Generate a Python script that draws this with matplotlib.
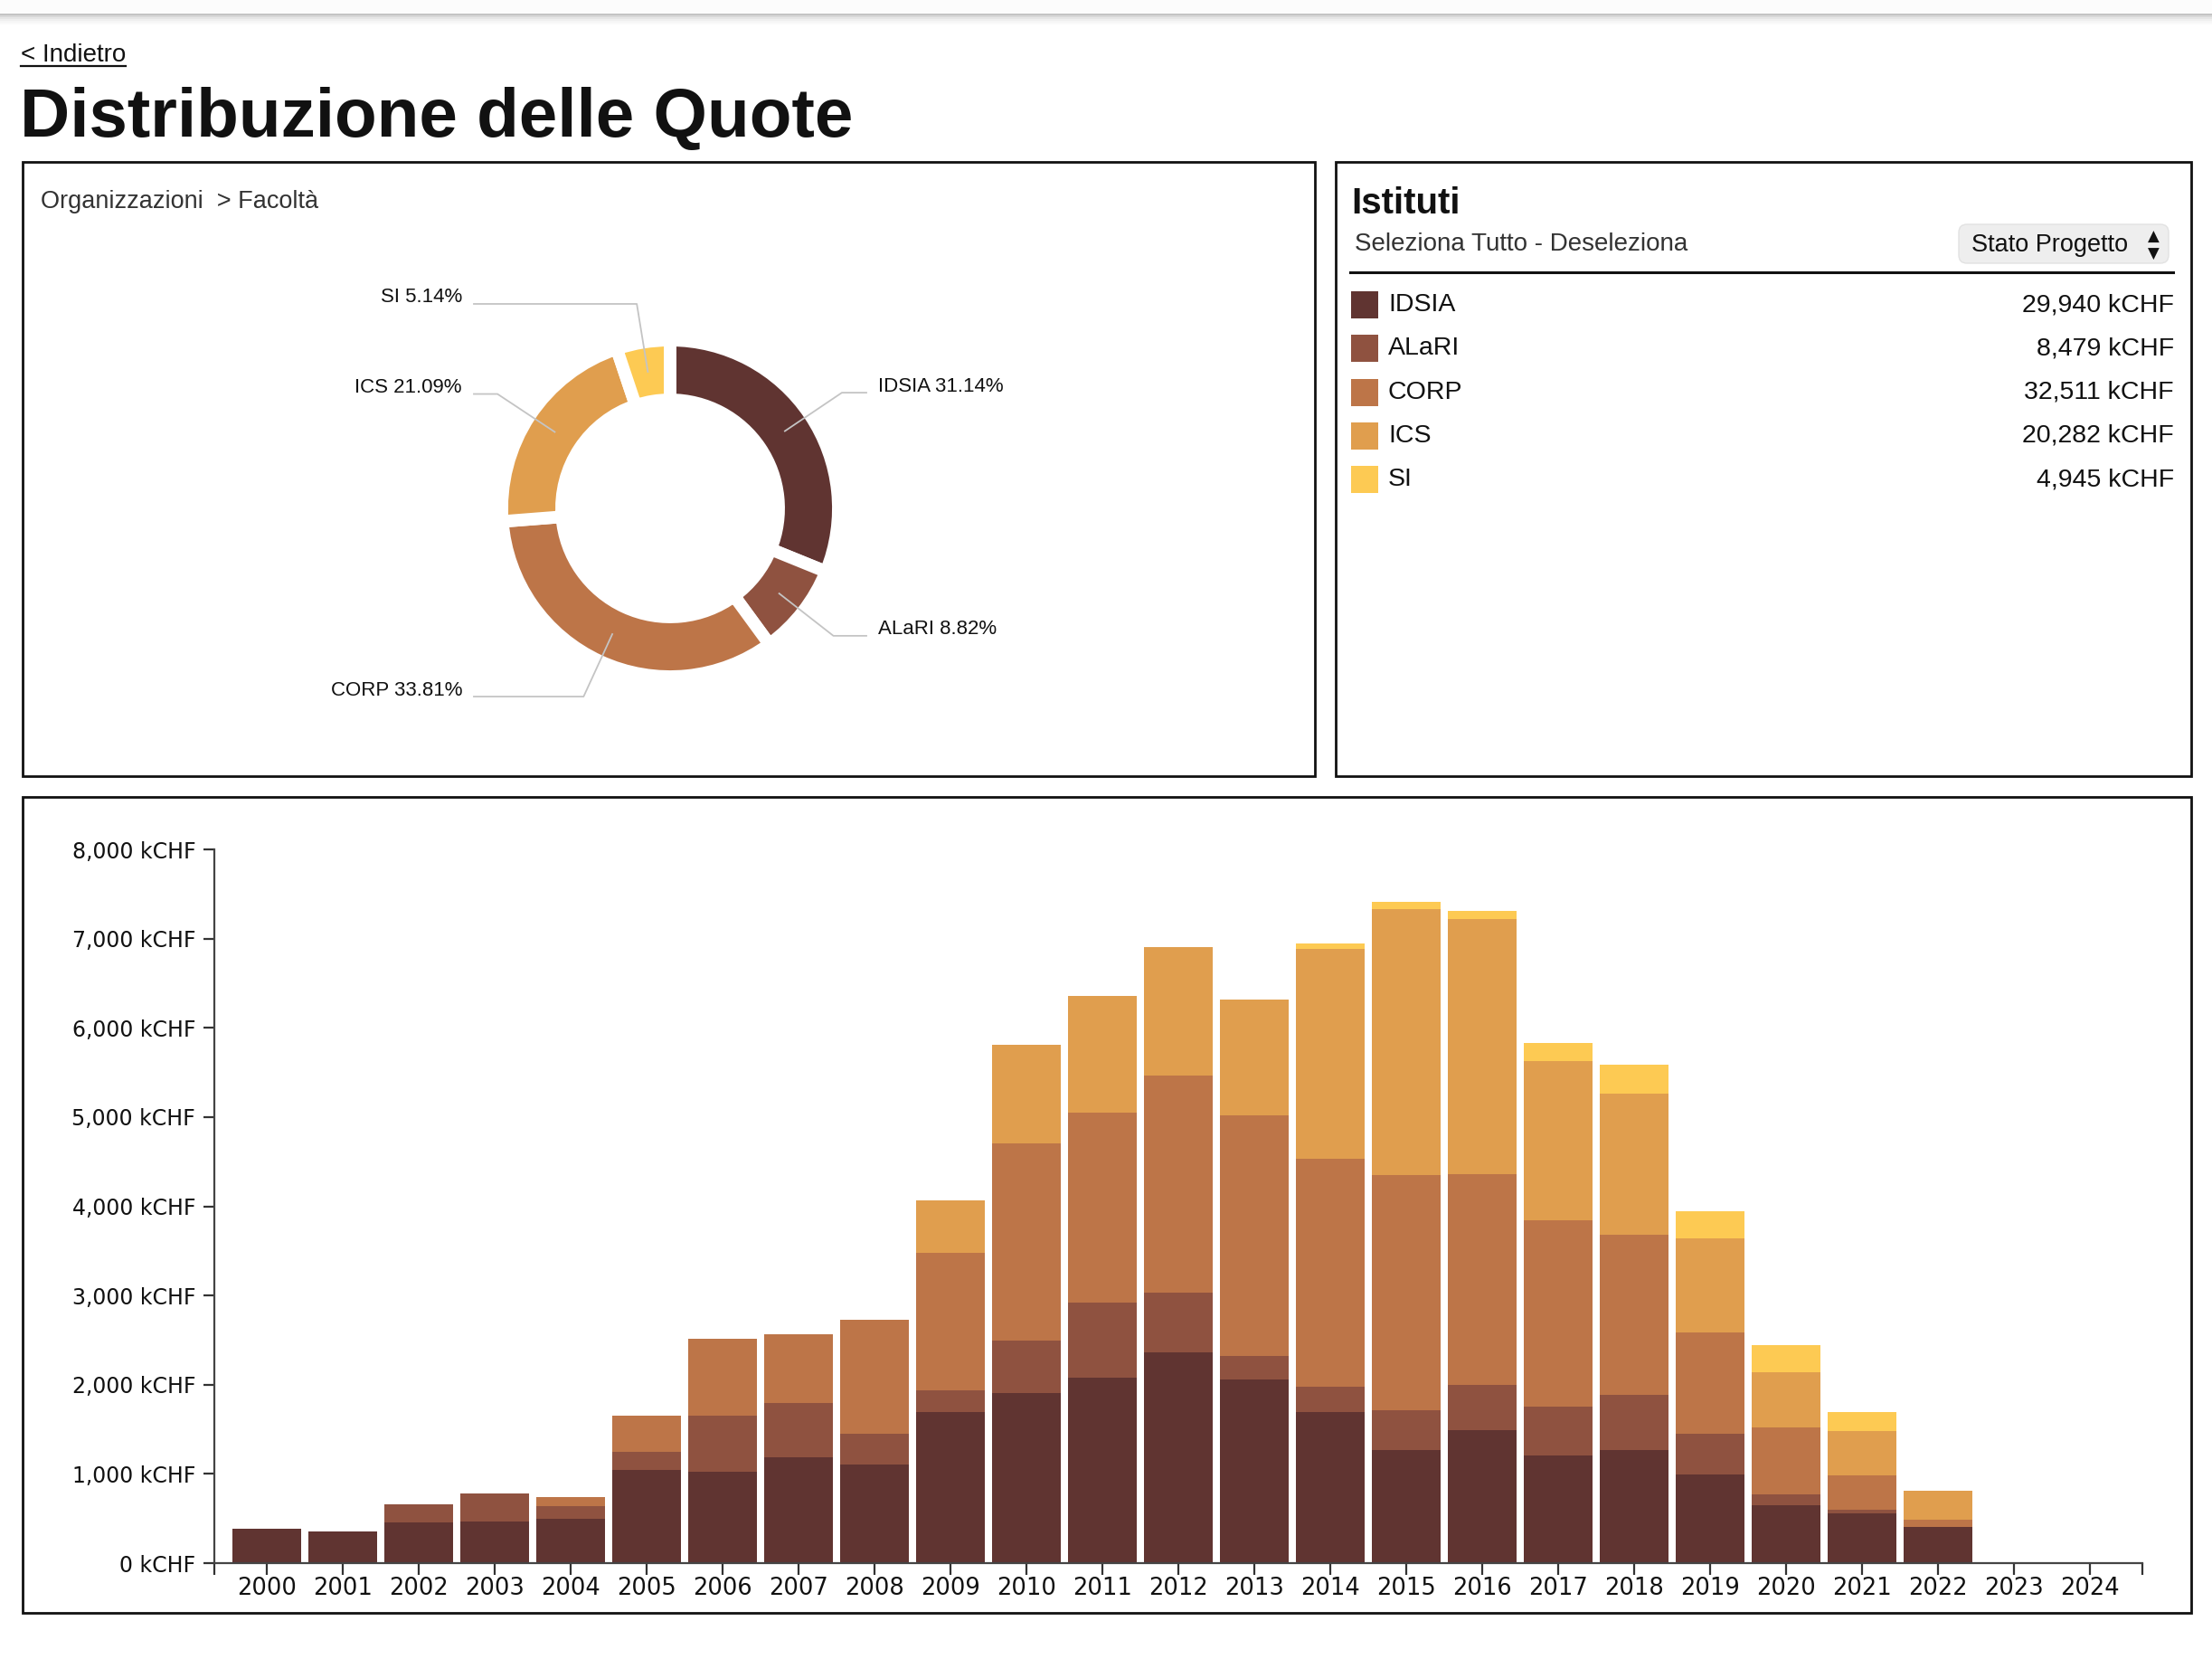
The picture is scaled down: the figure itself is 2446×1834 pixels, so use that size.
import matplotlib.pyplot as plt
from matplotlib.patches import Rectangle, FancyBboxPatch
import numpy as np

# data
istituti = ["IDSIA", "ALaRI", "CORP", "ICS", "SI"]
colori = ["#603431", "#8f5240", "#bd7548", "#e09e4e", "#fdca53"]
totali = [29940, 8479, 32511, 20282, 4945]
totali_label = ["29,940 kCHF", "8,479 kCHF", "32,511 kCHF", "20,282 kCHF", "4,945 kCHF"]
percentuali = ["31.14%", "8.82%", "33.81%", "21.09%", "5.14%"]

anni = [str(a) for a in range(2000, 2025)]
idsia = [390, 350, 455, 470, 495, 1045, 1020, 1185, 1110, 1695, 1905, 2080, 2365,
         2060, 1695, 1265, 1490, 1210, 1265, 995, 650, 555, 410, 0, 0]
alari = [0, 0, 200, 310, 145, 205, 635, 610, 345, 245, 590, 840, 670,
         265, 280, 450, 510, 545, 625, 450, 125, 40, 0, 0, 0]
corp = [0, 0, 0, 0, 100, 405, 855, 770, 1275, 1535, 2205, 2125, 2435,
        2695, 2555, 2635, 2355, 2090, 1790, 1140, 750, 385, 80, 0, 0]
ics = [0, 0, 0, 0, 0, 0, 0, 0, 0, 590, 1110, 1315, 1440,
       1300, 2355, 2980, 2865, 1785, 1585, 1055, 610, 505, 325, 0, 0]
si = [0, 0, 0, 0, 0, 0, 0, 0, 0, 0, 0, 0, 0,
      0, 60, 80, 95, 200, 320, 305, 305, 205, 0, 0, 0]
y_ticks = [0, 1000, 2000, 3000, 4000, 5000, 6000, 7000, 8000]

W, H = 2446, 1834
FONT = ["Liberation Sans", "DejaVu Sans"]

fig = plt.figure(figsize=(W / 100, H / 100), dpi=100)
fig.patch.set_facecolor("white")


def fr(x0, y0, x1, y1):
    # pixel box -> figure fraction
    return [x0 / W, 1 - y1 / H, (x1 - x0) / W, (y1 - y0) / H]


# background layer in pixel coords
bg = fig.add_axes([0, 0, 1, 1])
bg.set_xlim(0, W)
bg.set_ylim(H, 0)
bg.axis("off")

# top shadow line
bg.add_patch(Rectangle((0, 0), W, 15, color="#fcfcfc", lw=0))
for i, c in enumerate(["#c4c4c4", "#d8d8d8", "#e6e6e6", "#efefef", "#f6f6f6", "#fafafa"]):
    bg.add_patch(Rectangle((0, 15 + i * 2), W, 2, color=c, lw=0))

bg.text(23, 61, "< Indietro", family=FONT, fontsize=20, color="#111111", va="center")
bg.plot([23, 139], [73, 73], color="#111111", lw=1.6)
bg.text(22, 151, "Distribuzione delle Quote", family=FONT, fontsize=55,
        fontweight="bold", color="#111111", va="baseline")

# panels
for (x0, y0, x1, y1) in [(25, 179, 1454, 858), (1477, 179, 2423, 858), (25, 881, 2423, 1783)]:
    bg.add_patch(Rectangle((x0, y0), x1 - x0, y1 - y0, fill=False, ec="#111111", lw=2))

bg.text(45, 223, "Organizzazioni  > Facoltà", family=FONT, fontsize=19.5, color="#333333", va="center")

# right panel: legend
bg.text(1494, 225, "Istituti", family=FONT, fontsize=29, fontweight="bold", color="#111111", va="center")
bg.text(1498, 270, "Seleziona Tutto - Deseleziona", family=FONT, fontsize=20, color="#333333", va="center")
bg.add_patch(FancyBboxPatch((2166, 248), 232, 43, boxstyle="round,pad=0,rounding_size=9",
                            fc="#eeeeee", ec="#e2e2e2", lw=1))
bg.text(2180, 271, "Stato Progetto", family=FONT, fontsize=19.5, color="#111111", va="center")
bg.text(2381, 262, "▲", family="DejaVu Sans", fontsize=12, color="#111111", ha="center", va="center")
bg.text(2381, 281, "▼", family="DejaVu Sans", fontsize=12, color="#111111", ha="center", va="center")
bg.plot([1493, 2403], [301, 301], color="#111111", lw=2.2)

for i, (nome, col, val) in enumerate(zip(istituti, colori, totali_label)):
    y = 337 + i * 48.3
    bg.add_patch(Rectangle((1494, y - 15), 30, 30, color=col, lw=0))
    bg.text(1535, y, nome, family=FONT, fontsize=20.5, color="#111111", va="center")
    bg.text(2404, y, val, family=FONT, fontsize=20.5, color="#111111", va="center", ha="right")

# donut
cx, cy = 741, 562
dax = fig.add_axes(fr(cx - 300, cy - 300, cx + 300, cy + 300))
dax.pie(totali, colors=colori, startangle=90, counterclock=False, radius=186,
        wedgeprops=dict(width=66, edgecolor="white", linewidth=10))
dax.set_xlim(-300, 300)
dax.set_ylim(-300, 300)
dax.set_aspect("equal")
dax.axis("off")

frac = np.array(totali) / sum(totali)
mid = np.cumsum(frac) - frac / 2
for nome, p, m in zip(istituti, percentuali, mid):
    ang = m * 2 * np.pi
    sx, sy = np.sin(ang), np.cos(ang)
    p0 = (153 * sx, 153 * sy)
    p1 = (229 * sx, 229 * sy)
    side = 1 if sx > 0 else -1
    p2 = (217 * side, p1[1])
    dax.plot([p0[0], p1[0], p2[0]], [p0[1], p1[1], p2[1]], color="#c4c4c4", lw=1.3,
             clip_on=False)
    dax.text(p2[0] + 13 * side, p1[1] + 7, f"{nome} {p}", family=FONT, fontsize=16,
             color="#111111", va="center", ha="left" if side > 0 else "right", clip_on=False)

# stacked bars
ax = fig.add_axes(fr(237, 939, 2369, 1728))
x = np.arange(len(anni))
bottom = np.zeros(len(anni))
for serie, col in zip([idsia, alari, corp, ics, si], colori):
    ax.bar(x, serie, bottom=bottom, width=0.905, color=col, lw=0)
    bottom += np.array(serie)

ax.set_xlim(-0.69, len(anni) - 0.31)
ax.set_ylim(0, 8000)
ax.set_xticks(x)
ax.set_xticklabels(anni)
ax.set_xticks([-0.69, len(anni) - 0.31], minor=True)
ax.set_yticks(y_ticks)
ax.set_yticklabels([f"{v:,} kCHF" for v in y_ticks])
for s in ["top", "right"]:
    ax.spines[s].set_visible(False)
for s in ["left", "bottom"]:
    ax.spines[s].set_color("#444444")
    ax.spines[s].set_linewidth(1.6)
ax.tick_params(axis="both", which="both", length=9, width=1.6, color="#333333",
               labelcolor="#111111")
ax.tick_params(axis="y", labelsize=17, pad=6)
ax.tick_params(axis="x", labelsize=18.5, pad=2)
for lab in ax.get_xticklabels() + ax.get_yticklabels():
    lab.set_family("DejaVu Sans")
ax.patch.set_alpha(0)

fig.savefig("out.png", dpi=100, facecolor="white")
